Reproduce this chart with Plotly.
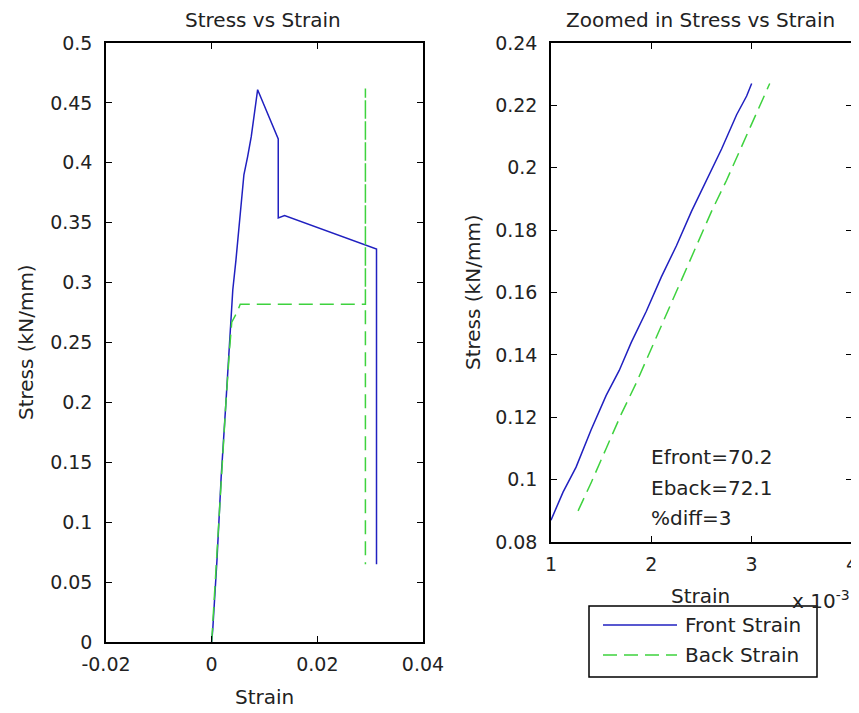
import plotly.graph_objects as go

# full stress-strain curves (strain, stress kN/mm)
front_strain = [0, 0.0002, 0.0010, 0.0018, 0.0027, 0.0033, 0.0037, 0.0040, 0.0046,
                0.0054, 0.0061, 0.0068, 0.0075, 0.0087, 0.0126, 0.0126, 0.0138, 0.0312, 0.0312]
front_stress = [0, 0.010, 0.068, 0.138, 0.200, 0.241, 0.274, 0.294, 0.319,
                0.359, 0.390, 0.405, 0.422, 0.461, 0.420, 0.354, 0.356, 0.328, 0.065]
back_strain = [0, 0.0009, 0.0018, 0.0027, 0.0034, 0.0038, 0.0049, 0.0054, 0.0291, 0.0291, 0.0291]
back_stress = [0, 0.070, 0.138, 0.200, 0.245, 0.267, 0.276, 0.282, 0.282, 0.462, 0.065]

# zoomed region, strain in units of 1e-3
zf_strain = [1.00, 1.12, 1.25, 1.40, 1.55, 1.68, 1.80, 1.95, 2.10, 2.25, 2.40, 2.55, 2.70, 2.85, 2.95, 3.00]
zf_stress = [0.087, 0.096, 0.104, 0.116, 0.127, 0.135, 0.144, 0.154, 0.165, 0.175, 0.186, 0.196,
             0.206, 0.217, 0.223, 0.227]
zb_strain = [1.27, 1.40, 1.55, 1.70, 1.85, 2.00, 2.15, 2.30, 2.45, 2.60, 2.75, 2.90, 3.05, 3.18]
zb_stress = [0.090, 0.099, 0.110, 0.121, 0.131, 0.142, 0.153, 0.164, 0.175, 0.186, 0.196, 0.207,
             0.218, 0.227]

left_xticks = [-0.02, 0, 0.02, 0.04]
left_xtext = ["-0.02", "0", "0.02", "0.04"]
left_yticks = [0, 0.05, 0.1, 0.15, 0.2, 0.25, 0.3, 0.35, 0.4, 0.45, 0.5]
left_ytext = ["0", "0.05", "0.1", "0.15", "0.2", "0.25", "0.3", "0.35", "0.4", "0.45", "0.5"]
right_xticks = [1, 2, 3, 4]
right_xtext = ["1", "2", "3", "4"]
right_yticks = [0.08, 0.1, 0.12, 0.14, 0.16, 0.18, 0.2, 0.22, 0.24]
right_ytext = ["0.08", "0.1", "0.12", "0.14", "0.16", "0.18", "0.2", "0.22", "0.24"]

moduli = ["Efront=70.2", "Eback=72.1", "%diff=3"]
series_names = ["Front Strain", "Back Strain"]

# the page body has an 8px margin, so the figure is a bit smaller and shifted
OFF = 8
W, H = 859 - OFF, 713 - OFF
BLUE = "#2020c0"
GREEN = "#3ed23e"
FONT = "DejaVu Sans"


def px(x):
    return (x - OFF) / W


def py(y):
    return 1 - (y - OFF) / H


fig = go.Figure()
fig.add_trace(go.Scatter(x=front_strain, y=front_stress, mode="lines",
                         line=dict(color=BLUE, width=1.5), xaxis="x", yaxis="y"))
fig.add_trace(go.Scatter(x=back_strain, y=back_stress, mode="lines",
                         line=dict(color=GREEN, width=1.5, dash="14px,7px"), xaxis="x", yaxis="y"))
fig.add_trace(go.Scatter(x=zf_strain, y=zf_stress, mode="lines",
                         line=dict(color=BLUE, width=1.5), xaxis="x2", yaxis="y2"))
fig.add_trace(go.Scatter(x=zb_strain, y=zb_stress, mode="lines",
                         line=dict(color=GREEN, width=1.5, dash="14px,7px"), xaxis="x2", yaxis="y2"))

ax = dict(showline=True, linecolor="black", linewidth=1.5, mirror="ticks", ticks="inside",
          ticklen=6, tickwidth=1.2, tickcolor="black", showgrid=False, zeroline=False,
          tickfont=dict(family=FONT, size=19, color="#222"), automargin=False)

fig.update_layout(
    width=W, height=H, template="none", showlegend=False,
    paper_bgcolor="white", plot_bgcolor="white",
    margin=dict(l=0, r=0, t=0, b=0),
    xaxis=dict(ax, domain=[px(106), px(423)], range=[-0.02, 0.04], tickmode="array",
               tickvals=left_xticks, ticktext=left_xtext, anchor="y", ticklabelstandoff=4),
    yaxis=dict(ax, domain=[py(642), py(43)], range=[0, 0.5], tickmode="array",
               tickvals=left_yticks, ticktext=left_ytext, anchor="x", ticklabelstandoff=8),
    xaxis2=dict(ax, domain=[px(551), px(852)], range=[1, 4], tickmode="array",
                tickvals=right_xticks, ticktext=right_xtext, anchor="y2", ticklabelstandoff=4),
    yaxis2=dict(ax, domain=[py(542), py(43)], range=[0.08, 0.24], tickmode="array",
                tickvals=right_yticks, ticktext=right_ytext, anchor="x2", ticklabelstandoff=8),
)

txt = dict(family=FONT, size=20, color="#222")
notes = [
    ("Stress vs Strain", 263, 20, 0),
    ("Zoomed in Stress vs Strain", 700, 20, 0),
    ("Strain", 264, 697, 0),
    ("Strain", 700, 596, 0),
    ("Stress (kN/mm)", 26, 342, -90),
    ("Stress (kN/mm)", 473, 292, -90),
]
for text, x, y, ang in notes:
    fig.add_annotation(text=text, x=px(x), y=py(y), xref="paper", yref="paper",
                       showarrow=False, textangle=ang, font=txt, borderpad=0,
                       xanchor="center", yanchor="middle")

fig.add_annotation(text="x 10<sup>-3</sup>", x=px(790), y=py(600), xref="paper", yref="paper",
                   showarrow=False, font=txt, xanchor="left", yanchor="middle")

for i, text in enumerate(moduli):
    fig.add_annotation(text=text, x=px(649), y=py(457 + 30.5 * i), xref="paper", yref="paper",
                       showarrow=False, font=txt, xanchor="left", yanchor="middle")

# legend box drawn to match the long line samples of the original
fig.add_shape(type="rect", xref="paper", yref="paper", x0=px(589), x1=px(817), y0=py(677), y1=py(606),
              line=dict(color="black", width=1.5), fillcolor="white")
styles = [dict(color=BLUE, width=1.5), dict(color=GREEN, width=1.5, dash="14px,7px")]
for i, (name, st) in enumerate(zip(series_names, styles)):
    yy = 625 + 30 * i
    fig.add_shape(type="line", xref="paper", yref="paper", x0=px(603), x1=px(677),
                  y0=py(yy), y1=py(yy), line=st)
    fig.add_annotation(text=name, x=px(683), y=py(yy), xref="paper", yref="paper",
                       showarrow=False, font=txt, xanchor="left", yanchor="middle")

fig.write_html("out.html")
